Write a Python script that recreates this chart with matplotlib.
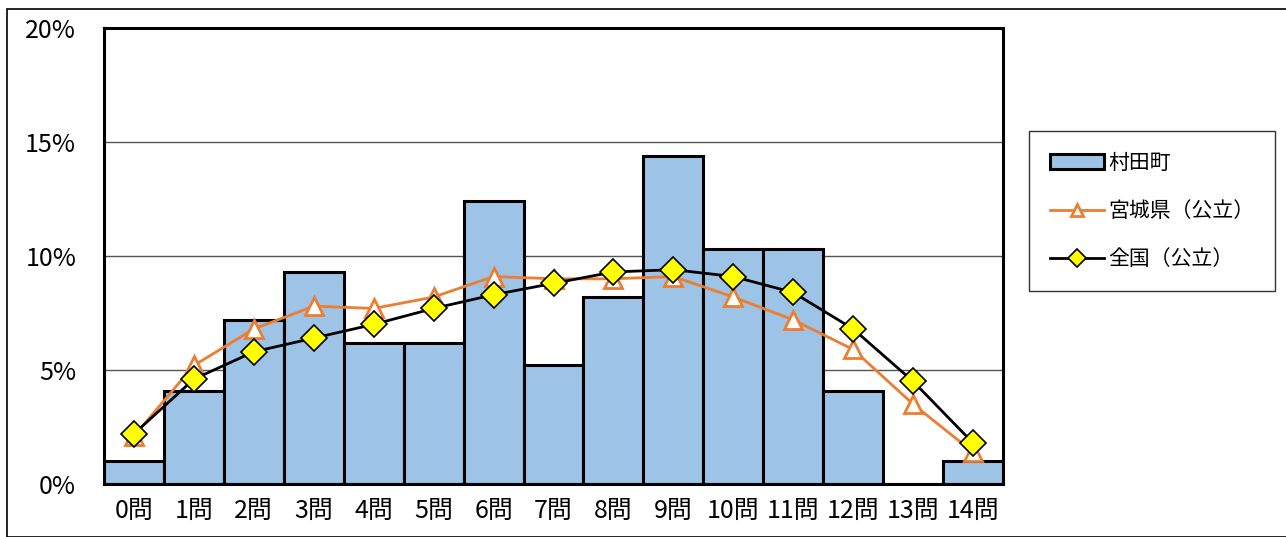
import matplotlib.pyplot as plt
from matplotlib.patches import Rectangle

plt.rcParams['font.family'] = ['Noto Sans CJK JP', 'DejaVu Sans']

# categories and values (percent)
labels = [f"{i}問" for i in range(15)]
murata = [1.0, 4.1, 7.2, 9.3, 6.2, 6.2, 12.4, 5.2, 8.2, 14.4, 10.3, 10.3, 4.1, 0.0, 1.0]
miyagi = [2.1, 5.2, 6.8, 7.8, 7.7, 8.2, 9.1, 9.0, 9.0, 9.1, 8.2, 7.2, 5.9, 3.5, 1.4]
zenkoku = [2.2, 4.6, 5.8, 6.4, 7.0, 7.7, 8.3, 8.8, 9.3, 9.4, 9.1, 8.4, 6.8, 4.5, 1.8]

fig = plt.figure(figsize=(12.86, 5.37), dpi=100)
ax = fig.add_axes([104/1286, 1-484/537, (1003-104)/1286, (484-28)/537])

x = list(range(len(labels)))
bars = ax.bar(x, murata, width=1.0, color='#9DC3E6', edgecolor='black', linewidth=2.2,
              label='村田町', zorder=2)
l1, = ax.plot(x, miyagi, color='#ED7D31', linewidth=2, marker='^', markersize=13,
              markerfacecolor='white', markeredgecolor='#ED7D31', markeredgewidth=2,
              label='宮城県（公立）', zorder=3)
l2, = ax.plot(x, zenkoku, color='black', linewidth=2, marker='D', markersize=13,
              markerfacecolor='#FFFF00', markeredgecolor='black', markeredgewidth=1.2,
              label='全国（公立）', zorder=4)

ax.set_xlim(-0.5, 14.5)
ax.set_ylim(0, 20)
ax.set_yticks([0, 5, 10, 15, 20])
ax.set_yticklabels(['0%', '5%', '10%', '15%', '20%'], fontsize=18)
ax.set_xticks(x)
ax.set_xticklabels(labels, fontsize=18)
ax.tick_params(length=0, pad=10)
ax.tick_params(axis='y', pad=20)
ax.yaxis.grid(True, color='#555555', linewidth=1, zorder=0)
ax.set_axisbelow(True)
for s in ax.spines.values():
    s.set_linewidth(2.2)

leg = fig.legend([bars, l1, l2], ['村田町', '宮城県（公立）', '全国（公立）'],
                 loc='upper left', bbox_to_anchor=(1029/1286, 1-131/537),
                 fontsize=15, frameon=True, fancybox=False, edgecolor='black',
                 borderpad=1.0, labelspacing=1.25, handlelength=2.6,
                 handletextpad=0.2, borderaxespad=0)
leg.get_frame().set_linewidth(1)
for h in leg.legend_handles:
    if hasattr(h, 'set_markersize'):
        h.set_markersize(9)

fig.patches.append(Rectangle((7/1286, 0), 1.2, 1-9/537, transform=fig.transFigure,
                             fill=False, edgecolor='black', linewidth=1.2))

fig.savefig('out.png', dpi=100)
